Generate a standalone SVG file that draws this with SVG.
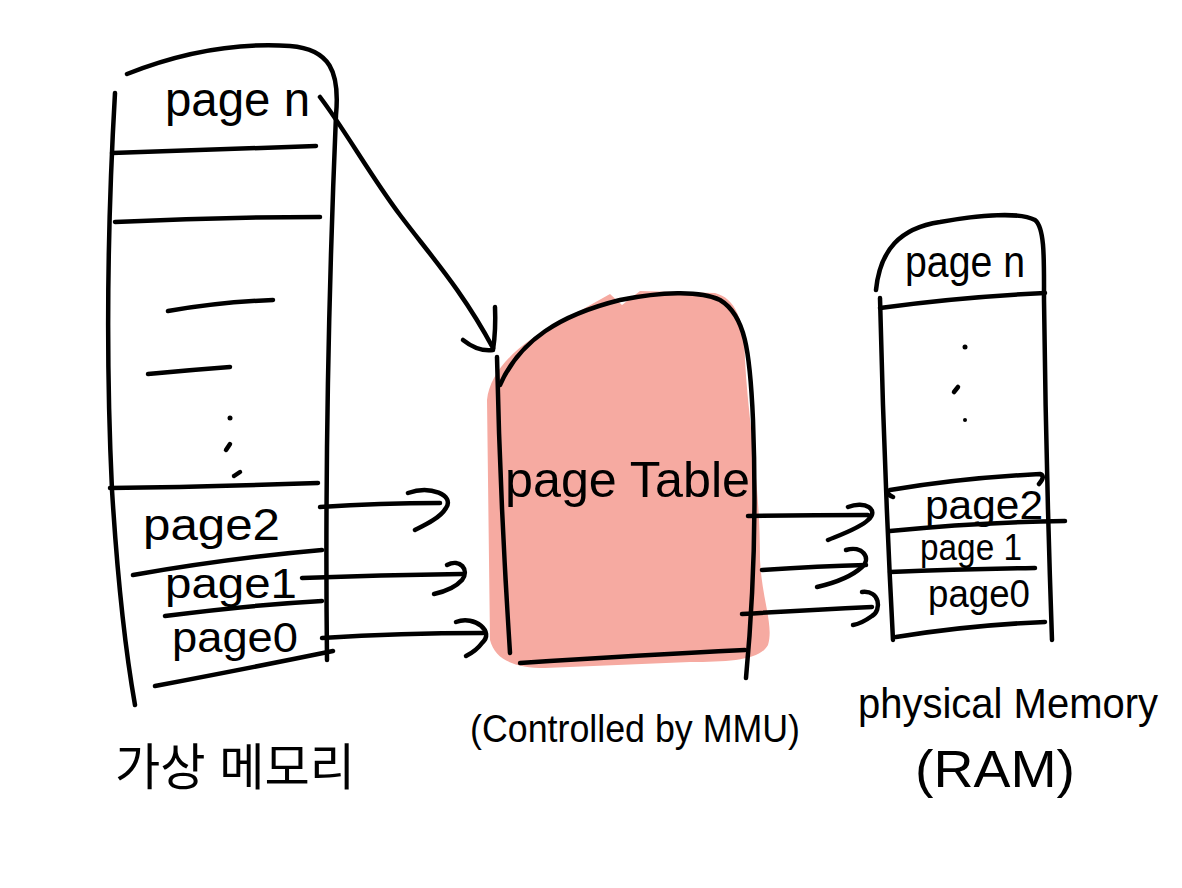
<svg xmlns="http://www.w3.org/2000/svg" width="1182" height="888" viewBox="0 0 1182 888">
<style>
.s{fill:none;stroke:#000;stroke-width:4.5;stroke-linecap:round;stroke-linejoin:round}
.t{font-family:"Liberation Sans","Noto Sans CJK KR",sans-serif;fill:#000}
</style>
<rect width="1182" height="888" fill="#fff"/>
<g id="virtual-memory">
<path class="s" d="M115,93 Q103,300 112,490 Q120,620 135,705"/>
<path class="s" d="M127,74 C175,55 230,42 290,46 C330,49 340,72 336,115 Q324,400 327,660"/>
<path class="s" d="M112,153 Q200,150 316,146"/>
<path class="s" d="M115,222 Q220,217 320,217"/>
<path class="s" d="M168,311 Q220,302 273,300"/>
<path class="s" d="M148,374 Q190,370 230,367"/>
<circle cx="230" cy="418" r="2.5"/>
<path class="s" d="M226,450 L230,444"/>
<path class="s" d="M234,476 L240,472"/>
<path class="s" d="M110,488 Q200,487 318,483"/>
<path class="s" d="M133,575 Q230,558 322,550"/>
<path class="s" d="M165,616 Q250,605 322,601"/>
<path class="s" d="M155,686 Q250,668 333,651"/>
<text class="t" x="165" y="116" font-size="48" textLength="145" lengthAdjust="spacingAndGlyphs">page n</text>
<text class="t" x="143" y="540" font-size="44" textLength="137" lengthAdjust="spacingAndGlyphs">page2</text>
<text class="t" x="165" y="598" font-size="42" textLength="132" lengthAdjust="spacingAndGlyphs">page1</text>
<text class="t" x="172" y="652" font-size="42" textLength="126" lengthAdjust="spacingAndGlyphs">page0</text>
</g>
<g id="page-table">
<path fill="#F6AAA1" d="M487,400 C490,370 520,342 560,322 L610,294 L622,305 L640,291 L715,293 C735,298 745,320 745,360 C748,420 760,480 760,560 C762,600 774,625 768,645 C760,660 730,662 690,662 L545,668 C515,668 495,660 490,640 Z"/>
<path class="s" d="M497,357 Q500,500 510,653"/>
<path class="s" d="M500,385 C520,340 560,315 620,300 C660,292 700,290 720,300 C745,315 750,350 753,420 Q758,550 746,678"/>
<path class="s" d="M520,663 Q640,655 745,650"/>
<text class="t" x="505" y="497" font-size="50" textLength="245" lengthAdjust="spacingAndGlyphs">page Table</text>
</g>
<g id="physical-memory">
<path class="s" d="M880,298 Q884,470 893,640"/>
<path class="s" d="M876,290 C880,250 900,228 940,222 C980,215 1020,212 1035,220 C1045,228 1044,260 1044,300 Q1046,470 1052,640"/>
<path class="s" d="M880,308 Q960,297 1045,293"/>
<circle cx="965" cy="347" r="2.5"/>
<path class="s" d="M954,392 L958,387"/>
<circle cx="965" cy="420" r="2"/>
<path class="s" d="M893,497 Q884,493 890,490 Q960,478 1040,474 Q1046,476 1039,484"/>
<path class="s" d="M890,531 Q980,522 1065,521"/>
<path class="s" d="M890,572 Q960,569 1035,568"/>
<path class="s" d="M896,637 Q970,625 1045,622"/>
<text class="t" x="905" y="277" font-size="44" textLength="120" lengthAdjust="spacingAndGlyphs">page n</text>
<text class="t" x="925" y="519" font-size="40" textLength="118" lengthAdjust="spacingAndGlyphs">page2</text>
<text class="t" x="920" y="560" font-size="36" textLength="102" lengthAdjust="spacingAndGlyphs">page 1</text>
<text class="t" x="928" y="607" font-size="38" textLength="102" lengthAdjust="spacingAndGlyphs">page0</text>
</g>
<g id="connectors">
<path class="s" d="M320,97 C345,130 370,175 400,215 C430,255 462,290 493,348"/>
<path class="s" d="M495,307 Q496,330 493,350 M463,340 Q478,352 493,350"/>
<path class="s" d="M320,507 Q380,503 440,503"/>
<path class="s" d="M408,493 C430,485 455,495 446,508 C440,518 425,525 415,530"/>
<path class="s" d="M302,578 Q380,575 462,574"/>
<path class="s" d="M447,565 C460,558 470,570 462,580 C455,588 443,592 434,594"/>
<path class="s" d="M322,638 Q400,633 483,633"/>
<path class="s" d="M456,622 C475,615 495,632 482,643 C477,650 470,654 466,656"/>
<path class="s" d="M748,516 Q810,515 868,515"/>
<path class="s" d="M848,507 C865,500 880,510 868,520 C860,528 840,535 828,540"/>
<path class="s" d="M762,570 Q820,566 866,565"/>
<path class="s" d="M846,550 C862,545 872,558 862,567 C850,578 830,584 817,587"/>
<path class="s" d="M742,614 Q810,610 872,607"/>
<path class="s" d="M862,592 C880,590 882,610 872,616 C865,621 860,624 853,625"/>
</g>
<g id="labels">
<text class="t" x="115" y="785" font-size="50" textLength="240" lengthAdjust="spacingAndGlyphs">가상 메모리</text>
<text class="t" x="470" y="742" font-size="38" textLength="330" lengthAdjust="spacingAndGlyphs">(Controlled by MMU)</text>
<text class="t" x="858" y="718" font-size="42" textLength="300" lengthAdjust="spacingAndGlyphs">physical Memory</text>
<text class="t" x="915" y="787" font-size="52" textLength="160" lengthAdjust="spacingAndGlyphs">(RAM)</text>
</g>
</svg>
